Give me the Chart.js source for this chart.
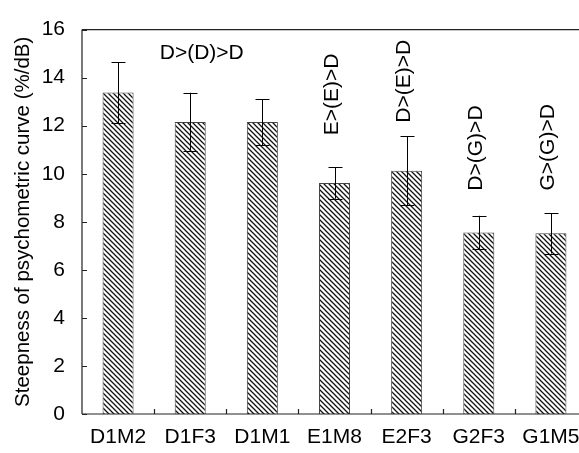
<!DOCTYPE html>
<html>
<head>
<meta charset="utf-8">
<script src="https://cdn.jsdelivr.net/npm/chart.js@4/dist/chart.umd.min.js"></script>
<style>
  html, body { margin: 0; padding: 0; background: #fff; overflow: hidden; }
  #wrap { width: 579px; height: 453px; overflow: hidden; position: relative; }
  #chart { position: absolute; left: 0; top: 0; }
</style>
</head>
<body>
<div id="wrap"><canvas id="chart" width="600" height="453"></canvas></div>
<script>
// data
const categories = ['D1M2', 'D1F3', 'D1M1', 'E1M8', 'E2F3', 'G2F3', 'G1M5'];
const steepness = [13.38, 12.15, 12.15, 9.62, 10.13, 7.55, 7.52];
const errors = [1.27, 1.22, 0.96, 0.66, 1.44, 0.70, 0.84];
const yTicks = [0, 2, 4, 6, 8, 10, 12, 14, 16];

// significance notes above the bars
const notes = ['D>(D)>D', 'E>(E)>D', 'D>(E)>D', 'D>(G)>D', 'G>(G)>D'];
const noteAt = [1.16, 2.97, 3.97, 4.96, 5.96];
const noteY = [15.0, 13.3, 13.85, 11.07, 11.1];
const noteRotated = [false, true, true, true, true];

const FONT = 'Arial, "Liberation Sans", sans-serif';

// hatch pattern "\\\\"
function hatch() {
  const s = 5;
  const p = document.createElement('canvas');
  p.width = s; p.height = s;
  const g = p.getContext('2d');
  g.fillStyle = '#fff';
  g.fillRect(0, 0, s, s);
  g.strokeStyle = '#111';
  g.lineWidth = 1.25;
  g.beginPath();
  g.moveTo(-1, -1); g.lineTo(s + 1, s + 1);
  g.moveTo(-1, s - 1); g.lineTo(1, s + 1);
  g.moveTo(s - 1, -1); g.lineTo(s + 1, 1);
  g.stroke();
  return g.createPattern(p, 'repeat');
}

const ctx = document.getElementById('chart').getContext('2d');

// frame, inward ticks, error bars, notes
const extras = {
  id: 'extras',
  afterDatasetsDraw(chart) {
    const c = chart.ctx;
    const a = chart.chartArea;
    const x = chart.scales.x;
    const y = chart.scales.y;
    c.save();
    c.strokeStyle = '#222';
    c.lineWidth = 1.2;
    c.beginPath();
    c.moveTo(a.left, a.top); c.lineTo(a.right, a.top);
    c.moveTo(a.left, a.top); c.lineTo(a.left, a.bottom);
    c.moveTo(a.left, a.bottom); c.lineTo(a.right, a.bottom);
    yTicks.forEach(v => {
      const py = Math.round(y.getPixelForValue(v)) + 0.5;
      c.moveTo(a.left, py); c.lineTo(a.left + 5, py);
    });
    for (let i = 1; i < categories.length; i++) {
      const px = Math.round(x.getPixelForValue(i - 0.5)) + 0.5;
      c.moveTo(px, a.bottom); c.lineTo(px, a.bottom - 5);
    }
    c.stroke();

    // error bars
    c.strokeStyle = '#000';
    c.lineWidth = 1;
    c.beginPath();
    steepness.forEach((v, i) => {
      const px = Math.round(x.getPixelForValue(i)) + 0.5;
      const hi = y.getPixelForValue(v + errors[i]);
      const lo = y.getPixelForValue(v - errors[i]);
      c.moveTo(px, hi); c.lineTo(px, lo);
      c.moveTo(px - 7, Math.round(hi) + 0.5); c.lineTo(px + 7, Math.round(hi) + 0.5);
      c.moveTo(px - 7, Math.round(lo) + 0.5); c.lineTo(px + 7, Math.round(lo) + 0.5);
    });
    c.stroke();

    // notes
    c.fillStyle = '#000';
    c.font = '21px ' + FONT;
    c.textAlign = 'center';
    c.textBaseline = 'middle';
    notes.forEach((t, i) => {
      const px = x.getPixelForValue(noteAt[i]);
      const py = y.getPixelForValue(noteY[i]);
      c.save();
      c.translate(px, py);
      if (noteRotated[i]) c.rotate(-Math.PI / 2);
      c.fillText(t, 0, 0);
      c.restore();
    });
    c.restore();
  }
};

new Chart(ctx, {
  type: 'bar',
  data: {
    labels: categories,
    datasets: [{
      data: steepness,
      backgroundColor: hatch(),
      borderColor: '#444',
      borderWidth: 1,
      categoryPercentage: 1,
      barPercentage: 0.43
    }]
  },
  options: {
    responsive: false,
    animation: false,
    events: [],
    layout: { padding: { top: 21, right: 13, left: 0, bottom: 0 } },
    plugins: { legend: { display: false }, tooltip: { enabled: false } },
    scales: {
      x: {
        grid: { display: false, drawTicks: false },
        border: { display: false },
        ticks: { color: '#000', font: { family: FONT, size: 21 }, padding: 11, maxRotation: 0 },
        afterFit(s) { s.height = 39; }
      },
      y: {
        min: 0,
        max: 16,
        afterBuildTicks(s) { s.ticks = yTicks.map(v => ({ value: v })); },
        grid: { display: false, drawTicks: false },
        border: { display: false },
        ticks: { color: '#000', font: { family: FONT, size: 21 }, padding: 17 },
        title: {
          display: true,
          text: 'Steepness of psychometric curve (%/dB)',
          color: '#000',
          font: { family: FONT, size: 20.5 },
          padding: { top: 11, bottom: 0 }
        },
        afterFit(s) { s.width = 82; }
      }
    }
  },
  plugins: [extras]
});
</script>
</body>
</html>
